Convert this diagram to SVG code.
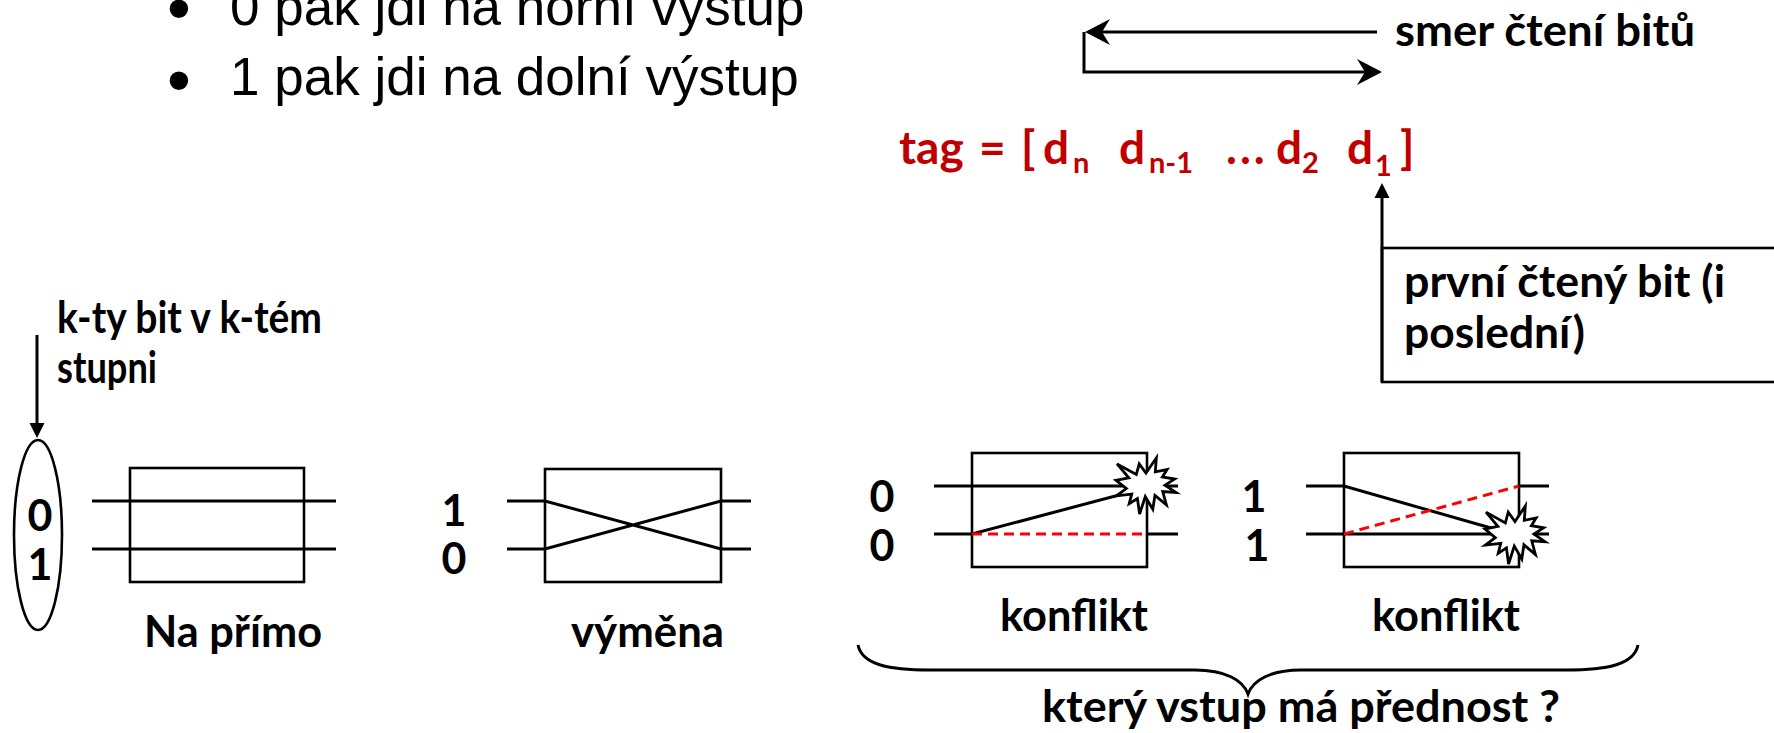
<svg xmlns="http://www.w3.org/2000/svg" xmlns:xlink="http://www.w3.org/1999/xlink" width="1774" height="733" viewBox="0 0 1774 733">
<style>
.bul{font-family:"Liberation Sans",Arial,sans-serif;font-size:53px;fill:#000}
.dot{font-family:"Liberation Sans",Arial,sans-serif;font-size:68px;fill:#000}
.lb{font-family:Lato,"Open Sans",sans-serif;font-weight:bold;font-size:43px;fill:#000}
.tag{font-family:Lato,"Open Sans",sans-serif;font-weight:bold;font-size:46px;fill:#C00000}
.sub{font-size:29px}
.box{fill:none;stroke:#000;stroke-width:2.6}
.w{fill:none;stroke:#000;stroke-width:3}
.red{fill:none;stroke:#FF0000;stroke-width:3;stroke-dasharray:10 6}
.boom{fill:#fff;stroke:#000;stroke-width:2.8}
</style>
<defs>
<marker id="stealth" markerUnits="userSpaceOnUse" markerWidth="26" markerHeight="26" refX="8" refY="13" orient="auto" overflow="visible">
<path d="M0,0 L25,13 L0,26 L8,13 Z" fill="#000"/>
</marker>
<marker id="tri" markerUnits="userSpaceOnUse" markerWidth="15" markerHeight="15" refX="5" refY="7.5" orient="auto" overflow="visible">
<path d="M0,0 L15,7.5 L0,15 Z" fill="#000"/>
</marker>
<polygon id="boomShape" vector-effect="non-scaling-stroke" points="50,26.85 67.2,0 65.5,24.65 85.1,20.6 77.3,33.9 97.7,37.7 81.5,48.5 100,61.5 77.9,59.9 84,83.8 64.9,66.9 61.3,91.4 48.8,69.1 39.3,100 35.7,72.3 22,81.6 26.2,64.5 0.6,67.5 17.2,54.5 0,39.9 21.4,35.3 1.7,10.6 33.9,29.3 38.7,10.6"/>
</defs>

<g id="bullets">
<text class="dot" x="167" y="31">•</text>
<text class="bul" x="230" y="25">0 pak jdi na horní výstup</text>
<text class="dot" x="167" y="103">•</text>
<text class="bul" x="230" y="95">1 pak jdi na dolní výstup</text>
</g>

<g id="reading-direction">
<text class="lb" x="1395" y="46" textLength="300" lengthAdjust="spacingAndGlyphs">smer čtení bitů</text>
</g>

<g id="tag">
<text class="tag" y="164"><tspan x="899">tag</tspan><tspan x="979">=</tspan><tspan x="1021">[</tspan><tspan x="1043">d</tspan><tspan class="sub" x="1073" y="173">n</tspan><tspan x="1119" y="164">d</tspan><tspan class="sub" x="1149" y="173">n-1</tspan><tspan x="1226" y="164" letter-spacing="3">...</tspan><tspan x="1276" y="164">d</tspan><tspan class="sub" x="1302" y="173">2</tspan><tspan x="1347" y="164">d</tspan><tspan class="sub" x="1375" y="176">1</tspan><tspan x="1400" y="164">]</tspan></text>
</g>

<g id="first-bit">
<rect class="box" x="1382" y="248" width="420" height="134"/>
<text class="lb" x="1404" y="297" textLength="321" lengthAdjust="spacingAndGlyphs">první čtený bit (i</text>
<text class="lb" x="1404" y="348" textLength="181" lengthAdjust="spacingAndGlyphs">poslední)</text>
</g>

<g id="kth-bit">
<text class="lb" x="57" y="333" font-size="39" textLength="265" lengthAdjust="spacingAndGlyphs">k-ty bit v k-tém</text>
<text class="lb" x="57" y="383" font-size="39" textLength="100" lengthAdjust="spacingAndGlyphs">stupni</text>
<ellipse class="box" cx="38" cy="535" rx="24" ry="95"/>
<text class="lb" x="40" y="531" text-anchor="middle">0</text>
<text class="lb" x="40" y="580" text-anchor="middle">1</text>
</g>

<g id="na-primo">
<rect class="box" x="130" y="468" width="174" height="114"/>
<path class="w" d="M92,501 H336 M92,549 H336"/>
<text class="lb" x="144" y="647" textLength="178" lengthAdjust="spacingAndGlyphs">Na přímo</text>
</g>

<g id="vymena">
<rect class="box" x="545" y="469" width="176" height="113"/>
<path class="w" d="M507,501 H545 L721,549 H751 M507,549 H545 L721,501 H751"/>
<text class="lb" x="454" y="526" text-anchor="middle">1</text>
<text class="lb" x="454" y="574" text-anchor="middle">0</text>
<text class="lb" x="571" y="647" textLength="153" lengthAdjust="spacingAndGlyphs">výměna</text>
</g>

<g id="konflikt-1">
<rect class="box" x="972" y="453" width="175" height="114"/>
<path class="w" d="M934,486 H1178 M934,534 H972 L1138,490 M1147,534 H1178"/>
<path class="red" d="M972,534 H1147"/>
<use xlink:href="#boomShape" class="boom" transform="translate(1116,458) scale(0.6,0.56)"/>
<text class="lb" x="882" y="512" text-anchor="middle">0</text>
<text class="lb" x="882" y="561" text-anchor="middle">0</text>
<text class="lb" x="1000" y="631" textLength="148" lengthAdjust="spacingAndGlyphs">konflikt</text>
</g>

<g id="konflikt-2">
<rect class="box" x="1344" y="453" width="175" height="114"/>
<path class="w" d="M1306,486 H1344 L1505,532 M1519,486 H1549 M1306,534 H1549"/>
<path class="red" d="M1344,534 L1519,486"/>
<use xlink:href="#boomShape" class="boom" transform="translate(1485,506) scale(0.6,0.58)"/>
<text class="lb" x="1254" y="512" text-anchor="middle">1</text>
<text class="lb" x="1257" y="561" text-anchor="middle">1</text>
<text class="lb" x="1372" y="631" textLength="148" lengthAdjust="spacingAndGlyphs">konflikt</text>
</g>

<g id="priority">
<text class="lb" x="1042" y="722" textLength="518" lengthAdjust="spacingAndGlyphs">který vstup má přednost ?</text>
</g>

<g id="connectors">
<path class="w" d="M1377,32 H1102" marker-end="url(#stealth)"/>
<path class="w" d="M1084,32 V72 H1365" marker-end="url(#stealth)"/>
<path class="w" d="M1382,382 V193" marker-end="url(#tri)"/>
<path class="w" d="M37,335 V428" marker-end="url(#tri)"/>
<path class="w" stroke-width="2.5" d="M858,645 C862,665 890,670 930,670 L1195,670 C1225,670 1243,680 1248,694 C1253,680 1271,670 1301,670 L1566,670 C1606,670 1634,665 1638,645"/>
</g>
</svg>
